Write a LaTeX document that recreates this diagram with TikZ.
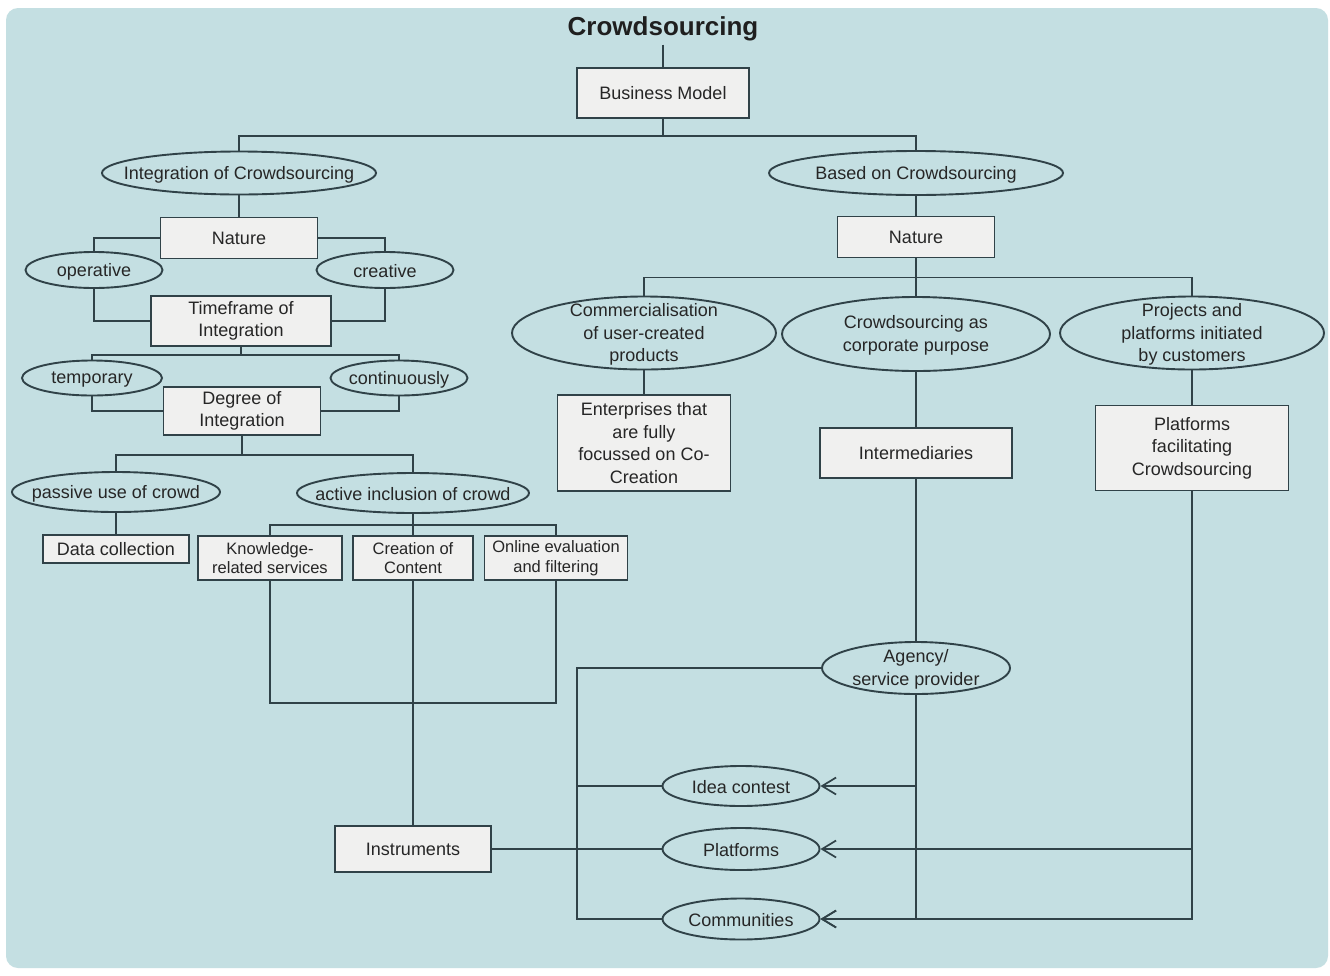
\documentclass[tikz,border=0pt]{standalone}
\usepackage{fontspec}
\setmainfont{Liberation Sans}
\usetikzlibrary{shapes.geometric,arrows.meta}
\definecolor{bgblue}{RGB}{196,223,226}
\definecolor{boxfill}{RGB}{240,240,239}
\definecolor{ink}{RGB}{48,66,72}
\definecolor{txt}{RGB}{38,38,38}

\begin{document}
\begin{tikzpicture}[x=1pt,y=-1pt,
  conn/.style={draw=ink, line width=1.7pt},
  arr/.style={conn, -{Straight Barb[length=14pt,width=17pt]}},
  box/.style={draw=ink, line width=1.9pt, fill=boxfill, text=txt, align=center,
    inner sep=0pt, font=\fontsize{18}{22.5}\selectfont},
  smallbox/.style={box, font=\fontsize{16.5}{19.5}\selectfont},
  lbl/.style={text=txt, align=center, inner sep=0pt, yshift=-1.5pt,
    font=\fontsize{18}{22.5}\selectfont},
  oval/.style={ellipse, draw=ink, line width=1.9pt, inner sep=0pt,
    label={[lbl]center:#1}},
  sz/.style 2 args={minimum width=#1, minimum height=#2}
]
% page and panel
\useasboundingbox (0,0) rectangle (1330,975);
\fill[white] (0,0) rectangle (1330,975);
\fill[bgblue, rounded corners=12] (6,8) rectangle (1328,968);

% title and root
\node[font=\bfseries\fontsize{26}{30}\selectfont, text=black!88] (title) at (663,29) {Crowdsourcing};
\node[box, sz={172}{50}] (bm) at (663,93) {Business Model};

% left branch
\node[oval={Integration of Crowdsourcing}, sz={274}{43}] (integ) at (239,173) {};
\node[box, sz={157}{41}] (natL) at (239,238) {Nature};
\node[oval={operative}, sz={137}{36}] (oper) at (94,270) {};
\node[oval={creative}, sz={137}{36}] (crea) at (385,270) {};
\node[box, sz={180}{50}] (time) at (241,321) {Timeframe of\\Integration};
\node[oval={temporary}, sz={140}{35}] (temp) at (92,378) {};
\node[oval={continuously}, sz={137}{35}] (cont) at (399,378) {};
\node[box, sz={157}{48}] (deg) at (242,411) {Degree of\\Integration};
\node[oval={passive use of crowd}, sz={208}{40}] (pass) at (116,492) {};
\node[oval={active inclusion of crowd}, sz={232}{40}] (act) at (413,493) {};
\node[box, sz={146}{28}] (data) at (116,549) {Data collection};
\node[smallbox, sz={144}{44}] (know) at (270,558) {Knowledge-\\related services};
\node[smallbox, sz={120}{44}] (creat) at (413,558) {Creation of\\Content};
\node[smallbox, sz={143}{44}] (onl) at (556,558) {Online evaluation\\and filtering};
\node[box, sz={156}{46}] (instr) at (413,849) {Instruments};

% right branch
\node[oval={Based on Crowdsourcing}, sz={294}{44}] (based) at (916,173) {};
\node[box, sz={157}{41}] (natR) at (916,237) {Nature};
\node[oval={Commercialisation\\of user-created\\products}, sz={264}{73}] (comm) at (644,333) {};
\node[oval={Crowdsourcing as\\corporate purpose}, sz={268}{74}] (corp) at (916,334) {};
\node[oval={Projects and\\platforms initiated\\by customers}, sz={264}{73}] (proj) at (1192,333) {};
\node[box, sz={173}{96}] (ent) at (644,443) {Enterprises that\\are fully\\focussed on Co-\\Creation};
\node[box, sz={192}{50}] (inter) at (916,453) {Intermediaries};
\node[box, sz={193}{85}] (pfac) at (1192,448) {Platforms\\facilitating\\Crowdsourcing};
\node[oval={Agency/\\service provider}, sz={188}{52}] (agency) at (916,668) {};
\node[oval={Idea contest}, sz={157}{40}] (idea) at (741,786) {};
\node[oval={Platforms}, sz={157}{42}] (plat) at (741,849) {};
\node[oval={Communities}, sz={157}{41}] (commu) at (741,919) {};
\coordinate (lbend) at (577,668);

% connectors: root
\draw[conn] (title.south) -- (bm.north);
\draw[conn] (bm.south) -- ++(0,17) -| (integ.north);
\draw[conn] (bm.south) -- ++(0,17) -| (based.north);

% connectors: left branch
\draw[conn] (integ.south) -- (natL.north);
\draw[conn] (natL.west) -| (oper.north);
\draw[conn] (natL.east) -| (crea.north);
\draw[conn] (oper.south) |- (time.west);
\draw[conn] (crea.south) |- (time.east);
\draw[conn] (time.south) -- ++(0,8) -| (temp.north);
\draw[conn] (time.south) -- ++(0,8) -| (cont.north);
\draw[conn] (temp.south) |- (deg.west);
\draw[conn] (cont.south) |- (deg.east);
\draw[conn] (deg.south) -- ++(0,19) -| (pass.north);
\draw[conn] (deg.south) -- ++(0,19) -| (act.north);
\draw[conn] (pass.south) -- (data.north);
\draw[conn] (act.south) -- ++(0,11) -| (know.north);
\draw[conn] (act.south) -- (creat.north);
\draw[conn] (act.south) -- ++(0,11) -| (onl.north);
\draw[conn] (know.south) -- ++(0,122) -| (onl.south);
\draw[conn] (creat.south) -- (instr.north);
\draw[conn] (instr.east) -- (plat.west);

% connectors: right branch
\draw[conn] (based.south) -- (natR.north);
\draw[conn] (natR.south) -- ++(0,19) -| (comm.north);
\draw[conn] (natR.south) -- (corp.north);
\draw[conn] (natR.south) -- ++(0,19) -| (proj.north);
\draw[conn] (comm.south) -- (ent.north);
\draw[conn] (corp.south) -- (inter.north);
\draw[conn] (proj.south) -- (pfac.north);
\draw[conn] (inter.south) -- (agency.north);

% instruments fan-out
\draw[arr] (agency.south) |- (idea.east);
\draw[arr] (agency.south) |- (commu.east);
\draw[arr] (pfac.south) |- (plat.east);
\draw[arr] (pfac.south) |- (commu.east);
\draw[conn] (agency.west) -- (lbend) |- (commu.west);
\draw[conn] (lbend) |- (idea.west);
\end{tikzpicture}
\end{document}
